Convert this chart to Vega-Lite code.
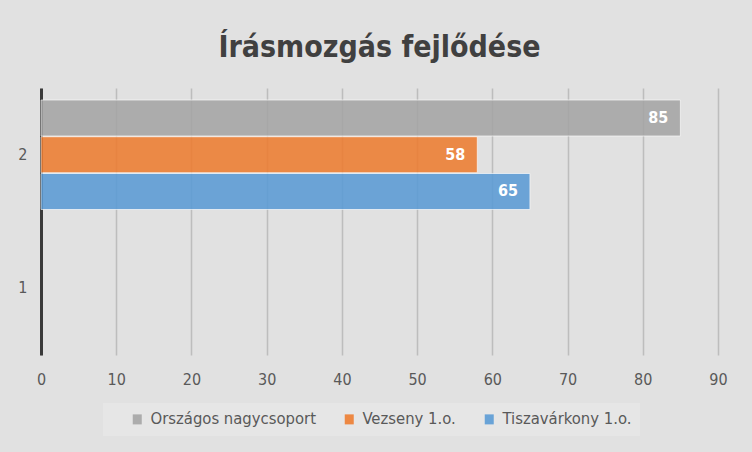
{
  "$schema": "https://vega.github.io/schema/vega-lite/v6.json",
  "width": 677,
  "height": 267,
  "autosize": {"type": "none"},
  "padding": {"left": 41, "top": 88, "right": 34, "bottom": 97},
  "background": "#e1e1e1",
  "title": {
    "text": "Írásmozgás fejlődése",
    "font": "Liberation Sans Narrow, DejaVu Sans Condensed, Liberation Sans",
    "fontSize": 30,
    "fontWeight": "bold",
    "color": "#404040",
    "anchor": "middle",
    "offset": 25
  },
  "config": {
    "view": {"stroke": null},
    "font": "Liberation Sans Narrow, DejaVu Sans Condensed, Liberation Sans"
  },
  "data": {
    "values": [
      {"g": "2", "s": "Országos nagycsoport", "v": 85},
      {"g": "2", "s": "Vezseny 1.o.", "v": 58},
      {"g": "2", "s": "Tiszavárkony 1.o.", "v": 65}
    ]
  },
  "encoding": {
    "y": {
      "field": "g",
      "type": "nominal",
      "scale": {"domain": ["2", "1"], "paddingInner": 0.18, "paddingOuter": 0.09},
      "axis": {
        "title": null,
        "domain": true,
        "domainColor": "#3a3a3a",
        "domainWidth": 3,
        "ticks": false,
        "grid": false,
        "labelPadding": 14,
        "labelFontSize": 16,
        "labelColor": "#595959",
        "labelFont": "Liberation Sans Narrow, DejaVu Sans Condensed, Liberation Sans"
      }
    },
    "x": {
      "field": "v",
      "type": "quantitative",
      "scale": {"domain": [0, 90], "nice": false},
      "axis": {
        "title": null,
        "values": [0, 10, 20, 30, 40, 50, 60, 70, 80, 90],
        "domain": false,
        "ticks": false,
        "grid": true,
        "gridColor": "#bdbdbd",
        "gridWidth": 1.5,
        "labelFlush": false,
        "labelPadding": 16,
        "labelFontSize": 16,
        "labelColor": "#595959",
        "labelFont": "Liberation Sans Narrow, DejaVu Sans Condensed, Liberation Sans"
      }
    },
    "yOffset": {
      "field": "s",
      "type": "nominal",
      "sort": ["Országos nagycsoport", "Vezseny 1.o.", "Tiszavárkony 1.o."],
      "scale": {"domain": ["Országos nagycsoport", "Vezseny 1.o.", "Tiszavárkony 1.o."], "paddingInner": 0.02, "paddingOuter": 0}
    }
  },
  "layer": [
    {
      "mark": {"type": "bar", "opacity": 0.88, "stroke": "#ffffff", "strokeWidth": 1, "strokeOpacity": 0.7},
      "encoding": {
        "color": {
          "field": "s",
          "type": "nominal",
          "scale": {
            "domain": ["Országos nagycsoport", "Vezseny 1.o.", "Tiszavárkony 1.o."],
            "range": ["#A5A5A5", "#ED7D31", "#5B9BD5"]
          },
          "legend": {
            "title": "\u00a0",
            "titleOrient": "left",
            "titleFontSize": 2,
            "titlePadding": 18,
            "orient": "none",
            "legendX": 62,
            "legendY": 315,
            "direction": "horizontal",
            "fillColor": "#e6e6e6",
            "padding": 8,
            "symbolType": "M-0.9,-1H0.9V1H-0.9Z",
            "symbolSize": 100,
            "symbolStrokeWidth": 0,
            "symbolOpacity": 0.9,
            "labelFontSize": 16.5,
            "labelLimit": 300,
            "labelColor": "#595959",
            "labelOffset": 5,
            "columnPadding": 25,
            "labelFont": "Liberation Sans Narrow, DejaVu Sans Condensed, Liberation Sans"
          }
        }
      }
    },
    {
      "mark": {
        "type": "text",
        "align": "right",
        "baseline": "middle",
        "dx": -12,
        "color": "#ffffff",
        "fontSize": 16,
        "fontWeight": "bold",
        "font": "Liberation Sans Narrow, DejaVu Sans Condensed, Liberation Sans"
      },
      "encoding": {
        "text": {"field": "v", "type": "quantitative"}
      }
    }
  ]
}
